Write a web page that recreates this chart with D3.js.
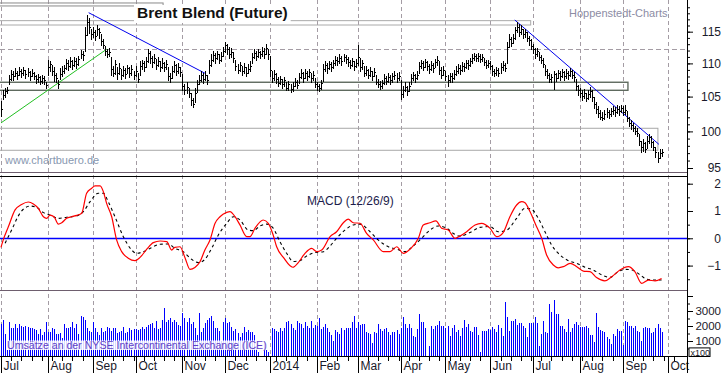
<!DOCTYPE html>
<html>
<head>
<meta charset="utf-8">
<script src="https://cdn.jsdelivr.net/npm/d3@7"></script>
<style>
  html, body { margin: 0; padding: 0; background: #fff; }
  svg { display: block; font-family: "Liberation Sans", Arial, sans-serif; }
</style>
</head>
<body>
<svg id="chart" width="723" height="373"></svg>
<script>
/* Brent Blend (Future) — daily bars Jul 2013 .. Sep 2014, MACD (12/26/9), ICE volume */

// daily values, one per weekday starting Mon 1 Jul 2013
const closes = [
  103.2,105.3,105.8,106.0,107.6,108.4,108.0,108.6,108.2,108.9,
  108.5,109.0,108.4,108.7,108.0,108.6,108.1,107.6,107.9,107.3,
  107.7,107.4,106.7,109.5,109.9,108.8,108.3,107.8,106.9,108.4,
  108.9,109.3,110.0,109.6,110.3,109.8,110.4,109.9,110.7,111.5,
  111.3,114.5,116.6,115.8,114.6,115.0,114.3,115.4,114.9,113.5,
  112.9,111.9,111.5,111.8,109.2,108.6,109.9,108.5,109.3,108.2,
  109.0,108.4,109.3,108.6,109.1,108.2,108.8,107.6,109.6,110.0,
  109.4,110.3,111.6,110.8,110.2,110.9,109.8,110.4,109.5,110.1,
  109.4,109.9,108.1,107.8,108.9,109.7,108.9,109.4,108.7,106.5,
  105.9,106.4,105.6,104.5,103.9,105.6,106.8,107.4,108.2,107.6,
  108.3,107.4,109.8,110.6,111.3,110.8,111.4,110.6,111.2,112.0,
  112.8,112.2,111.5,111.8,110.9,109.6,109.0,109.7,108.9,109.4,
  108.6,109.2,109.6,111.0,111.6,111.2,111.8,111.4,111.9,111.5,
  112.4,111.4,109.0,107.8,108.4,107.6,107.0,107.6,106.8,107.4,
  106.3,106.8,106.1,106.5,107.2,106.7,107.9,108.5,107.8,108.6,
  108.0,108.7,107.7,108.3,106.9,106.5,106.2,107.0,109.2,109.8,
  109.3,109.9,109.4,110.0,110.6,110.3,110.9,110.4,111.0,110.7,
  110.2,109.8,110.3,109.6,110.1,111.0,109.5,110.0,108.6,109.0,
  108.3,108.8,108.1,108.7,107.2,106.9,106.5,107.0,107.8,107.3,
  107.9,107.4,108.0,108.3,107.7,108.1,105.4,105.9,106.4,105.8,
  106.6,107.8,108.2,107.7,108.3,109.6,110.1,109.5,110.2,109.6,
  109.1,109.8,109.3,110.2,110.6,109.0,108.3,109.0,108.1,107.5,
  108.0,107.7,108.4,108.9,109.3,109.0,109.6,109.4,110.1,109.8,
  110.3,110.9,111.2,110.8,111.1,110.7,111.0,110.2,109.8,110.1,
  109.6,108.8,108.5,109.0,108.6,109.4,109.8,109.3,112.6,113.8,
  113.2,114.0,115.2,115.8,115.0,115.5,114.6,114.9,114.0,113.6,
  112.7,112.2,111.5,111.9,111.0,110.6,109.9,108.8,108.3,107.6,
  107.9,108.4,107.8,108.5,108.0,108.7,108.1,108.6,108.2,108.8,
  108.3,107.9,106.5,106.0,105.6,105.1,105.6,104.8,105.4,105.8,
  104.9,103.9,103.2,102.6,102.1,101.9,102.5,102.8,102.4,102.9,
  103.1,102.7,103.2,102.9,103.3,102.8,103.0,101.9,101.2,100.9,
  100.5,100.1,99.8,98.6,97.8,98.4,97.6,98.6,99.2,98.5,
  97.9,97.1,96.4,97.0,97.1
];
const highs = [
  104.4,106.0,106.3,106.4,108.3,109.0,108.8,109.3,108.9,109.4,
  109.2,109.4,109.0,109.3,108.8,109.1,108.7,108.3,108.4,108.0,
  108.3,108.0,107.2,110.5,110.4,109.8,109.4,108.6,107.4,109.3,
  109.6,109.8,110.7,110.5,111.0,110.6,111.0,110.8,111.2,112.1,
  112.0,115.8,117.7,117.2,115.5,115.8,115.3,116.0,115.6,114.6,
  113.8,112.7,112.3,112.4,111.0,109.6,110.5,109.4,110.0,109.1,
  109.6,109.3,109.8,109.4,109.8,108.9,109.6,108.5,110.3,110.6,
  110.3,111.0,112.3,111.9,111.1,111.4,110.7,111.0,110.3,110.8,
  110.2,110.5,109.4,108.6,109.6,110.3,109.9,110.0,109.5,108.4,
  106.8,107.1,106.3,105.6,104.8,106.2,107.5,108.2,108.9,108.6,
  108.9,108.3,110.6,111.5,111.9,111.6,112.0,111.5,111.8,112.6,
  113.3,113.0,112.5,112.4,111.7,110.5,109.9,110.2,109.6,110.0,
  109.5,109.9,110.3,111.6,112.2,112.0,112.3,112.0,112.5,112.4,
  113.0,112.2,111.2,108.9,109.0,108.5,107.9,108.1,107.6,107.9,
  107.2,107.3,106.9,107.2,107.8,107.5,108.6,109.1,108.7,109.2,
  108.9,109.1,108.5,108.8,107.8,107.1,106.9,107.5,109.9,110.4,
  110.1,110.4,110.2,110.6,111.2,111.0,111.4,111.2,111.5,111.3,
  111.0,110.5,110.9,110.4,110.7,112.9,110.8,110.6,109.6,109.6,
  109.1,109.4,108.9,109.3,108.2,107.6,107.3,107.5,108.4,108.1,
  108.5,108.2,108.5,108.9,108.6,108.7,107.4,106.6,107.1,106.6,
  107.2,108.4,108.7,108.4,108.8,110.2,110.6,110.3,110.7,110.4,
  109.9,110.4,110.0,110.7,111.1,110.4,109.4,109.6,108.9,108.3,
  108.6,108.5,109.0,109.6,109.9,109.8,110.2,110.1,110.6,110.5,
  110.8,111.4,111.6,111.5,111.6,111.4,111.4,110.9,110.6,110.6,
  110.3,109.7,109.2,109.5,109.3,110.0,110.4,110.1,113.4,114.6,
  114.2,114.7,115.8,116.6,116.2,116.0,115.5,115.4,114.9,114.3,
  113.8,113.0,112.4,112.4,111.8,111.3,110.8,109.8,109.2,108.5,
  108.4,108.9,108.6,109.0,108.8,109.2,108.9,109.1,108.9,109.3,
  109.0,108.7,107.6,106.7,106.3,105.9,106.1,105.5,106.0,106.4,
  105.9,105.0,104.2,103.6,103.0,102.7,103.0,103.3,103.1,103.4,
  103.6,103.5,103.7,103.6,103.8,103.6,103.7,102.9,102.1,101.6,
  101.2,100.8,100.5,99.6,98.7,99.0,98.5,99.3,99.7,99.3,
  98.7,97.9,97.2,97.6,97.6
];
const lows = [
  102.2,104.6,104.9,105.6,106.9,107.5,107.4,108.0,107.6,108.2,
  107.9,108.3,107.8,108.1,107.4,108.0,107.6,107.0,107.2,106.9,
  107.0,106.9,106.2,108.3,108.9,108.2,107.3,107.2,106.2,107.6,
  108.1,108.6,109.2,109.0,109.4,109.2,109.6,109.3,109.8,110.8,
  110.6,112.0,114.5,114.8,113.8,114.2,113.7,114.4,114.0,112.8,
  112.4,111.3,111.0,111.1,108.3,108.0,108.4,107.6,108.4,107.6,
  108.1,107.8,108.5,107.9,108.3,107.6,108.1,107.1,108.3,109.1,
  108.8,109.4,110.2,110.1,109.5,110.0,109.1,109.6,108.9,109.3,
  108.8,109.1,107.5,107.2,107.8,108.7,108.2,108.6,108.0,105.9,
  105.4,105.6,105.0,103.8,103.5,104.2,105.7,106.8,107.3,107.0,
  107.5,106.8,108.6,109.6,110.4,110.1,110.7,110.0,110.4,111.1,
  111.8,111.5,110.8,111.0,110.2,109.0,108.5,108.8,108.3,108.6,
  108.1,108.5,108.9,110.0,110.8,110.6,111.0,110.8,111.2,110.9,
  111.4,110.7,108.0,107.1,107.5,107.0,106.5,106.8,106.3,106.6,
  105.9,106.0,105.7,105.8,106.5,106.2,107.0,107.7,107.2,107.8,
  107.4,107.9,107.2,107.5,106.4,106.0,105.8,106.1,107.3,108.9,
  108.6,109.2,108.8,109.3,109.8,109.7,110.1,109.8,110.3,110.1,
  109.6,109.3,109.6,109.0,109.4,109.8,108.9,109.2,108.0,108.3,
  107.7,108.1,107.5,108.0,106.8,106.4,106.1,106.3,106.9,106.8,
  107.1,106.9,107.2,107.6,107.1,107.4,104.6,105.0,105.8,105.3,
  105.8,106.8,107.5,107.2,107.6,108.5,109.3,109.0,109.4,109.0,
  108.6,109.0,108.7,109.4,109.7,108.4,107.8,108.2,107.5,106.6,
  107.2,107.1,107.6,108.2,108.6,108.4,108.9,108.8,109.3,109.2,
  109.6,110.1,110.5,110.3,110.4,110.2,110.3,109.7,109.3,109.4,
  109.1,108.3,108.0,108.3,108.1,108.6,109.0,108.8,110.0,112.6,
  112.7,113.2,113.9,115.0,114.3,114.6,114.0,114.1,113.5,112.9,
  112.2,111.6,110.9,111.1,110.5,110.1,109.4,108.2,107.7,107.1,
  107.2,106.1,107.3,107.7,107.4,107.9,107.5,107.8,107.6,108.0,
  107.7,107.3,106.0,105.3,104.9,104.5,104.8,104.4,104.6,105.0,
  104.4,103.4,102.6,102.0,101.7,101.6,101.8,102.1,101.9,102.2,
  102.4,102.2,102.6,102.3,102.7,102.3,102.4,101.4,100.8,100.4,
  100.0,99.6,99.3,98.1,97.2,97.3,97.2,97.7,98.4,97.9,
  97.4,96.5,95.8,96.3,96.6
];
// ICE volume (axis units), grouped by month
const volumes = [
  2110,2400,1500,400,2240,1840,1890,2110,1890,2110,2000,1960,2020,1960,1840,1890,1800,1730,1440,1800,1400,1600,2240,
  1580,1620,1890,1800,1440,1440,1510,1200,2110,1840,1840,1960,2240,1840,2110,1500,2690,2620,2400,1900,1700,1620,
  2290,1890,1620,1400,1840,1620,1700,1960,1890,1670,1890,1840,1510,1580,1670,1960,1510,1620,1840,1750,1800,
  1800,1730,1800,1960,1800,1960,2070,2110,2180,1840,2330,1800,1890,2400,3220,2290,2400,2560,2240,2400,2240,2100,2000,
  2840,2510,2240,2560,2110,2240,1840,1400,2840,1620,1890,2180,2400,2510,2690,2330,1840,1840,1700,1000,2300,
  2560,2180,2240,1960,1670,1800,1510,1290,1510,1960,1620,1730,1620,1580,1400,700,290,0,0,900,400,300,
  0,1890,1800,1670,1620,1840,1670,1890,2240,2330,2110,1890,1730,2330,2180,2110,1890,2240,2020,1890,2330,1900,2100,
  2020,2510,1800,1960,2110,1890,1580,1400,1000,1730,1580,1440,1890,1730,1890,1840,1890,2290,2690,1900,
  2300,2100,2110,2110,1580,1510,1440,840,1620,1510,2110,1800,1670,1800,1890,1620,1400,1580,1580,1730,1440,
  1890,2600,2110,1840,2110,1890,1360,1290,1800,2800,2240,2240,1890,0,690,2020,1800,2020,2070,2330,2020,2020,
  1840,2020,1360,1840,2070,1620,1730,1360,1840,2400,1960,2110,1670,1620,1960,1960,1400,290,1670,1670,1670,1800,
  1730,1960,1800,1580,2070,1840,1360,3620,2620,1670,2330,2330,2470,2070,2180,2180,2020,1840,1290,2180,2200,
  2180,2620,2180,690,1440,2330,1620,1510,3470,2910,3730,2780,2780,2020,2020,1800,1620,2470,1620,1890,2110,2240,2100,
  1960,1960,1960,2020,1840,1400,1400,960,2870,1960,1730,1670,1620,1290,1130,780,1440,1360,1800,1670,1700,
  730,2330,2240,2020,2020,1900,2020,1670,1580,1000,1890,1960,1890,1890,1510,1620,1890,2110,1840,1620
];

// MACD line and signal line, read at weekday positions
const macdDays = [0,1.1,3.6,6.9,10.1,13.4,15.9,18.3,20.8,22.4,24,26,28.1,29.8,32.2,34.7,37.1,39.6,42,44.5,
  46.1,48.6,50.2,51.8,54.3,56.7,59.2,62.4,65.7,68.2,71.5,74.7,78,81.3,83.7,85.3,87.8,90.2,92.7,95.1,
  97.6,100,102.5,105,107.4,110.7,112.3,114.8,117.2,120.5,122.1,124.6,128.6,131.1,133.5,135.2,138.5,143.1,145.8,149.1,
  152.4,154.8,157.3,161.4,164.6,167.9,170.3,172.8,176.1,179.3,182.6,187.5,190.8,194.1,197.3,200.6,204.7,207.1,210.4,
  213.3,216.1,219.4,222.7,225.1,228.4,232.5,235.7,239.8,243.1,246.3,249.6,252.9,255.4,257,259.5,262.7,265.2,267.6,270.9,
  273.3,275.8,279.1,282.4,285.6,288.9,292.1,296.2,299.5,303.6,307.7,310.9,314.2,317.5,320.8,324];
const macdVals = [-0.33,-0.06,0.42,1.04,1.24,1.33,1.26,1.10,0.79,0.73,0.85,0.79,0.52,0.57,0.73,0.79,0.84,0.92,1.65,1.83,
  1.92,1.92,1.71,1.28,0.79,-0.06,-0.49,-0.73,-0.82,-0.70,-0.40,-0.16,-0.10,-0.12,-0.43,-0.33,-0.31,-0.70,-1.14,-1.07,
  -0.86,-0.43,-0.06,0.55,0.79,0.95,0.98,0.79,0.49,0.06,0.06,0.37,0.67,0.55,0.12,-0.31,-0.70,-1.06,-0.89,-0.55,
  -0.37,-0.49,-0.43,0.06,0.24,0.57,0.70,0.57,0.55,0.18,-0.06,-0.49,-0.49,-0.31,-0.55,-0.40,0.0,0.49,0.57,
  0.64,0.37,0.30,0.0,0.08,0.24,0.49,0.55,0.37,0.06,0.21,0.79,1.22,1.34,1.30,0.97,0.42,0.0,-0.61,-0.98,
  -1.08,-1.04,-0.92,-1.04,-1.20,-1.22,-1.44,-1.56,-1.41,-1.16,-1.04,-1.22,-1.65,-1.53,-1.56,-1.47];
const sigDays = [2,5.2,9.3,14.2,17.5,20.8,24,28.1,32.2,37.1,40.4,43.7,47.7,50.2,52.6,55.9,60,64.1,66.5,69.8,
  73.1,78,82.1,85.3,89.4,93.5,96.8,100,103.3,106.6,110.7,114,117.2,121.3,123.8,127,130.3,133.5,136.8,140.1,
  143.4,146.6,149.9,154,158.1,161.4,164.6,168.7,172.8,176.1,181,185,190,194.1,198.1,202.2,206.3,210.4,214.5,218.6,
  221.8,225.1,230,234.9,239.8,243.9,248,252.9,257,260.3,263.5,266.8,270.1,274.2,278.3,282.4,286.4,290.5,294.6,298.7,
  302.8,306.1,309.4,313.5,316.7,320.8,324];
const sigVals = [-0.18,0.30,0.92,1.18,1.13,0.94,0.85,0.73,0.77,0.82,0.98,1.34,1.65,1.65,1.34,0.79,0.06,-0.43,-0.55,-0.49,
  -0.37,-0.22,-0.21,-0.37,-0.49,-0.77,-0.89,-0.77,-0.37,0.12,0.55,0.79,0.67,0.30,0.28,0.45,0.52,0.37,-0.12,-0.55,
  -0.85,-0.82,-0.65,-0.52,-0.49,-0.28,0.0,0.30,0.49,0.52,0.24,-0.06,-0.31,-0.40,-0.49,-0.28,0.0,0.30,0.45,0.37,
  0.18,0.08,0.21,0.40,0.43,0.24,0.30,0.73,1.10,1.06,0.73,0.24,-0.25,-0.61,-0.82,-0.92,-1.06,-1.16,-1.34,-1.43,
  -1.22,-1.14,-1.16,-1.34,-1.50,-1.53,-1.53];

// drawn annotations: [day, price] end points and zones [dayFrom, dayTo, priceTop, priceBottom]
const supportLine = [[0, 101.2], [51.8, 112.2]];
const downTrends = [[[43, 118.1], [100, 108.5]], [[252, 116.9], [322.7, 98.2]]];
const zones = [[-1, 79.5, 119.72, 119.22], [-1, 259.8, 116.79, 116.08], [-1, 307.5, 107.13, 105.93], [-1, 322.2, 100.44, 97.39]];
const zoneColors = ['#8a8a8a', '#aaaaaa', '#5e6a5e', '#a8a8a8'];
const gridPrice = 112.2;

const priceTicks = [95, 100, 105, 110, 115];
const macdTicks = [-1, 0, 1, 2];
const volTicks = [1000, 2000, 3000];

const svg = d3.select('#chart');
const axisX = 687;
const n = Math.min(closes.length, highs.length, lows.length);

// weekday calendar from 1 Jul 2013
const days = [];
for (let d = new Date(2013, 6, 1); days.length < 340; d.setDate(d.getDate() + 1)) {
  if (d.getDay() !== 0 && d.getDay() !== 6) days.push(new Date(d));
}
const monthStarts = days.map((d, i) => i).filter(i => i === 0 || days[i].getMonth() !== days[i - 1].getMonth()).filter(i => i <= 330);
const mondays = days.map((d, i) => i).filter(i => days[i].getDay() === 1 && i <= 334);

const x = d3.scaleLinear().domain([0, 327]).range([1, 667.7]);
const yP = d3.scaleLog().domain([94.43, 120.22]).range([172.3, 0]);
const yM = d3.scaleLinear().domain([-1.894, 2.256]).range([290, 176.7]);
const yV = d3.scaleLinear().domain([0, 4400]).range([356, 290]);
const px = i => Math.round(x(i)) + 0.5;

// vertical month grid
svg.append('g').selectAll('line').data(monthStarts).join('line')
  .attr('x1', px).attr('x2', px).attr('y1', 0).attr('y2', 356)
  .attr('stroke', '#a49ca4').attr('stroke-dasharray', '4,3').attr('shape-rendering', 'crispEdges');

svg.append('line').attr('x1', 0).attr('x2', axisX).attr('y1', Math.round(yP(gridPrice)) + 0.5).attr('y2', Math.round(yP(gridPrice)) + 0.5)
  .attr('stroke', '#a49ca4').attr('stroke-dasharray', '5,3').attr('shape-rendering', 'crispEdges');

// zones
svg.append('g').selectAll('rect').data(zones).join('rect')
  .attr('x', d => x(d[0])).attr('width', d => x(d[1]) - x(d[0]))
  .attr('y', d => yP(d[2])).attr('height', d => yP(d[3]) - yP(d[2]))
  .attr('fill', 'none').attr('stroke', (d, i) => zoneColors[i]).attr('stroke-width', (d, i) => i === 2 ? 1.4 : 1);

// trend lines
svg.append('line')
  .attr('x1', x(supportLine[0][0])).attr('y1', yP(supportLine[0][1]))
  .attr('x2', x(supportLine[1][0])).attr('y2', yP(supportLine[1][1]))
  .attr('stroke', '#22c022').attr('stroke-width', 1);
svg.append('g').selectAll('line').data(downTrends).join('line')
  .attr('x1', d => x(d[0][0])).attr('y1', d => yP(d[0][1]))
  .attr('x2', d => x(d[1][0])).attr('y2', d => yP(d[1][1]))
  .attr('stroke', '#0000ee').attr('stroke-width', 1);

// price bars
const bars = d3.range(n).map(i => ({ i, hi: highs[i], lo: lows[i], cl: closes[i] }));
const gB = svg.append('g').attr('stroke', '#000').attr('shape-rendering', 'crispEdges');
gB.selectAll('.hl').data(bars).join('line').attr('class', 'hl')
  .attr('x1', d => px(d.i)).attr('x2', d => px(d.i))
  .attr('y1', d => Math.round(yP(d.hi))).attr('y2', d => Math.round(yP(d.lo)) + 1);
gB.selectAll('.cl').data(bars).join('line').attr('class', 'cl')
  .attr('x1', d => px(d.i)).attr('x2', d => px(d.i) + 1.5)
  .attr('y1', d => Math.round(yP(d.cl)) + 0.5).attr('y2', d => Math.round(yP(d.cl)) + 0.5);

// title with white backing
const title = svg.append('text').attr('x', 137).attr('y', 18)
  .attr('font-size', 15.5).attr('font-weight', 'bold').attr('fill', '#111').text('Brent Blend (Future)');
const tb = title.node().getBBox();
svg.insert('rect', () => title.node()).attr('x', tb.x - 3).attr('y', tb.y + 1).attr('width', tb.width + 6).attr('height', tb.height + 1).attr('fill', '#fff');

svg.append('text').attr('x', 569).attr('y', 17).attr('font-size', 11).attr('fill', '#8c8ca4').text('Hoppenstedt-Charts');
svg.append('text').attr('x', 5).attr('y', 164).attr('font-size', 11).attr('fill', '#8898b0').text('www.chartbuero.de');

// panel separators
svg.append('line').attr('x1', 0).attr('x2', axisX).attr('y1', 172.5).attr('y2', 172.5).attr('stroke', '#6e5e6e');
svg.append('line').attr('x1', 0).attr('x2', axisX).attr('y1', 176.5).attr('y2', 176.5).attr('stroke', '#000');
svg.append('line').attr('x1', 0).attr('x2', axisX).attr('y1', 290.5).attr('y2', 290.5).attr('stroke', '#6e5e6e');

// MACD
svg.append('line').attr('x1', 0).attr('x2', axisX).attr('y1', Math.round(yM(0)) + 0.5).attr('y2', Math.round(yM(0)) + 0.5)
  .attr('stroke', '#0000ff').attr('stroke-width', 1.3);
const sigLine = d3.line().x(d => x(d[0])).y(d => yM(d[1])).curve(d3.curveMonotoneX);
svg.append('path').attr('d', sigLine(d3.zip(sigDays, sigVals)))
  .attr('fill', 'none').attr('stroke', '#000').attr('stroke-width', 1.1).attr('stroke-dasharray', '3,3');
svg.append('path').attr('d', sigLine(d3.zip(macdDays, macdVals)))
  .attr('fill', 'none').attr('stroke', '#ff0000').attr('stroke-width', 1.2);
svg.append('text').attr('x', 307).attr('y', 205).attr('font-size', 12).attr('fill', '#1c1c4c').text('MACD (12/26/9)');

// volume
const vols = volumes.slice(0, n).map((v, i) => ({ i, v })).filter(d => d.v > 0);
svg.append('g').selectAll('line').data(vols).join('line')
  .attr('x1', d => px(d.i)).attr('x2', d => px(d.i))
  .attr('y1', yV(0)).attr('y2', d => Math.round(yV(d.v)))
  .attr('stroke', '#0000ff').attr('shape-rendering', 'crispEdges');
const volLabel = svg.append('text').attr('x', 7).attr('y', 349).attr('font-size', 10.6).attr('fill', '#5e3ec8')
  .text('Umsätze an der NYSE Intercontinental Exchange (ICE)');
const vb = volLabel.node().getBBox();
svg.insert('rect', () => volLabel.node()).attr('x', vb.x - 1).attr('y', vb.y + 1.5).attr('width', vb.width + 2).attr('height', vb.height - 2.5)
  .attr('fill', '#fff').attr('opacity', 0.85);

// bottom time axis
svg.append('line').attr('x1', 0).attr('x2', axisX).attr('y1', 356.5).attr('y2', 356.5).attr('stroke', '#000');
const gX = svg.append('g').attr('stroke', '#000').attr('shape-rendering', 'crispEdges');
gX.selectAll('.wk').data(mondays).join('line').attr('class', 'wk')
  .attr('x1', px).attr('x2', px).attr('y1', 356).attr('y2', 361);
gX.selectAll('.mo').data(monthStarts).join('line').attr('class', 'mo')
  .attr('x1', px).attr('x2', px).attr('y1', 356).attr('y2', 373);
const fmtMonth = d => d.getMonth() === 0 ? d3.timeFormat('%Y')(d) : d3.timeFormat('%b')(d);
svg.append('g').selectAll('text').data(monthStarts).join('text')
  .attr('x', i => px(i) + 2).attr('y', 370).attr('font-size', 12).attr('fill', '#1a1a2a')
  .text(i => fmtMonth(days[i]));

// right axes
svg.append('line').attr('x1', axisX + 0.5).attr('x2', axisX + 0.5).attr('y1', 0).attr('y2', 373).attr('stroke', '#000');
function rightAxis(scale, minor, major, fmt) {
  const g = svg.append('g').attr('transform', `translate(${axisX},0)`);
  g.append('g').call(d3.axisRight(scale).tickValues(minor).tickSize(3).tickFormat(''));
  const m = g.append('g').call(d3.axisRight(scale).tickValues(major).tickSize(6).tickFormat(fmt));
  g.selectAll('.domain').remove();
  g.selectAll('line').attr('stroke', '#000');
  m.selectAll('text').attr('x', 34).attr('text-anchor', 'end').attr('font-size', 12)
    .attr('font-family', '"Liberation Sans", Arial, sans-serif').attr('fill', '#1a1a2a');
  return m;
}
rightAxis(yP, d3.range(95, 120), priceTicks, d3.format('d'));
rightAxis(yM, d3.range(-1.5, 2.01, 0.5), macdTicks, d3.format('d'));
const volAxis = rightAxis(yV, d3.range(500, 4001, 500), volTicks, d3.format('d'));
volAxis.selectAll('text').attr('font-size', 11.5);
svg.append('g').attr('transform', `translate(${axisX},0)`)
  .call(d3.axisRight(yV).tickValues([4000]).tickSize(6).tickFormat(''))
  .call(g => g.select('.domain').remove());

// x100 unit box
const unit = svg.append('g').attr('transform', `translate(${axisX + 2},${yV(540)})`);
unit.append('rect').attr('width', 21).attr('height', 8.6).attr('fill', '#fff').attr('stroke', '#000');
unit.append('text').attr('x', 1.5).attr('y', 7.6).attr('font-size', 9).attr('fill', '#1a1a2a').text('x100');
</script>
</body>
</html>
